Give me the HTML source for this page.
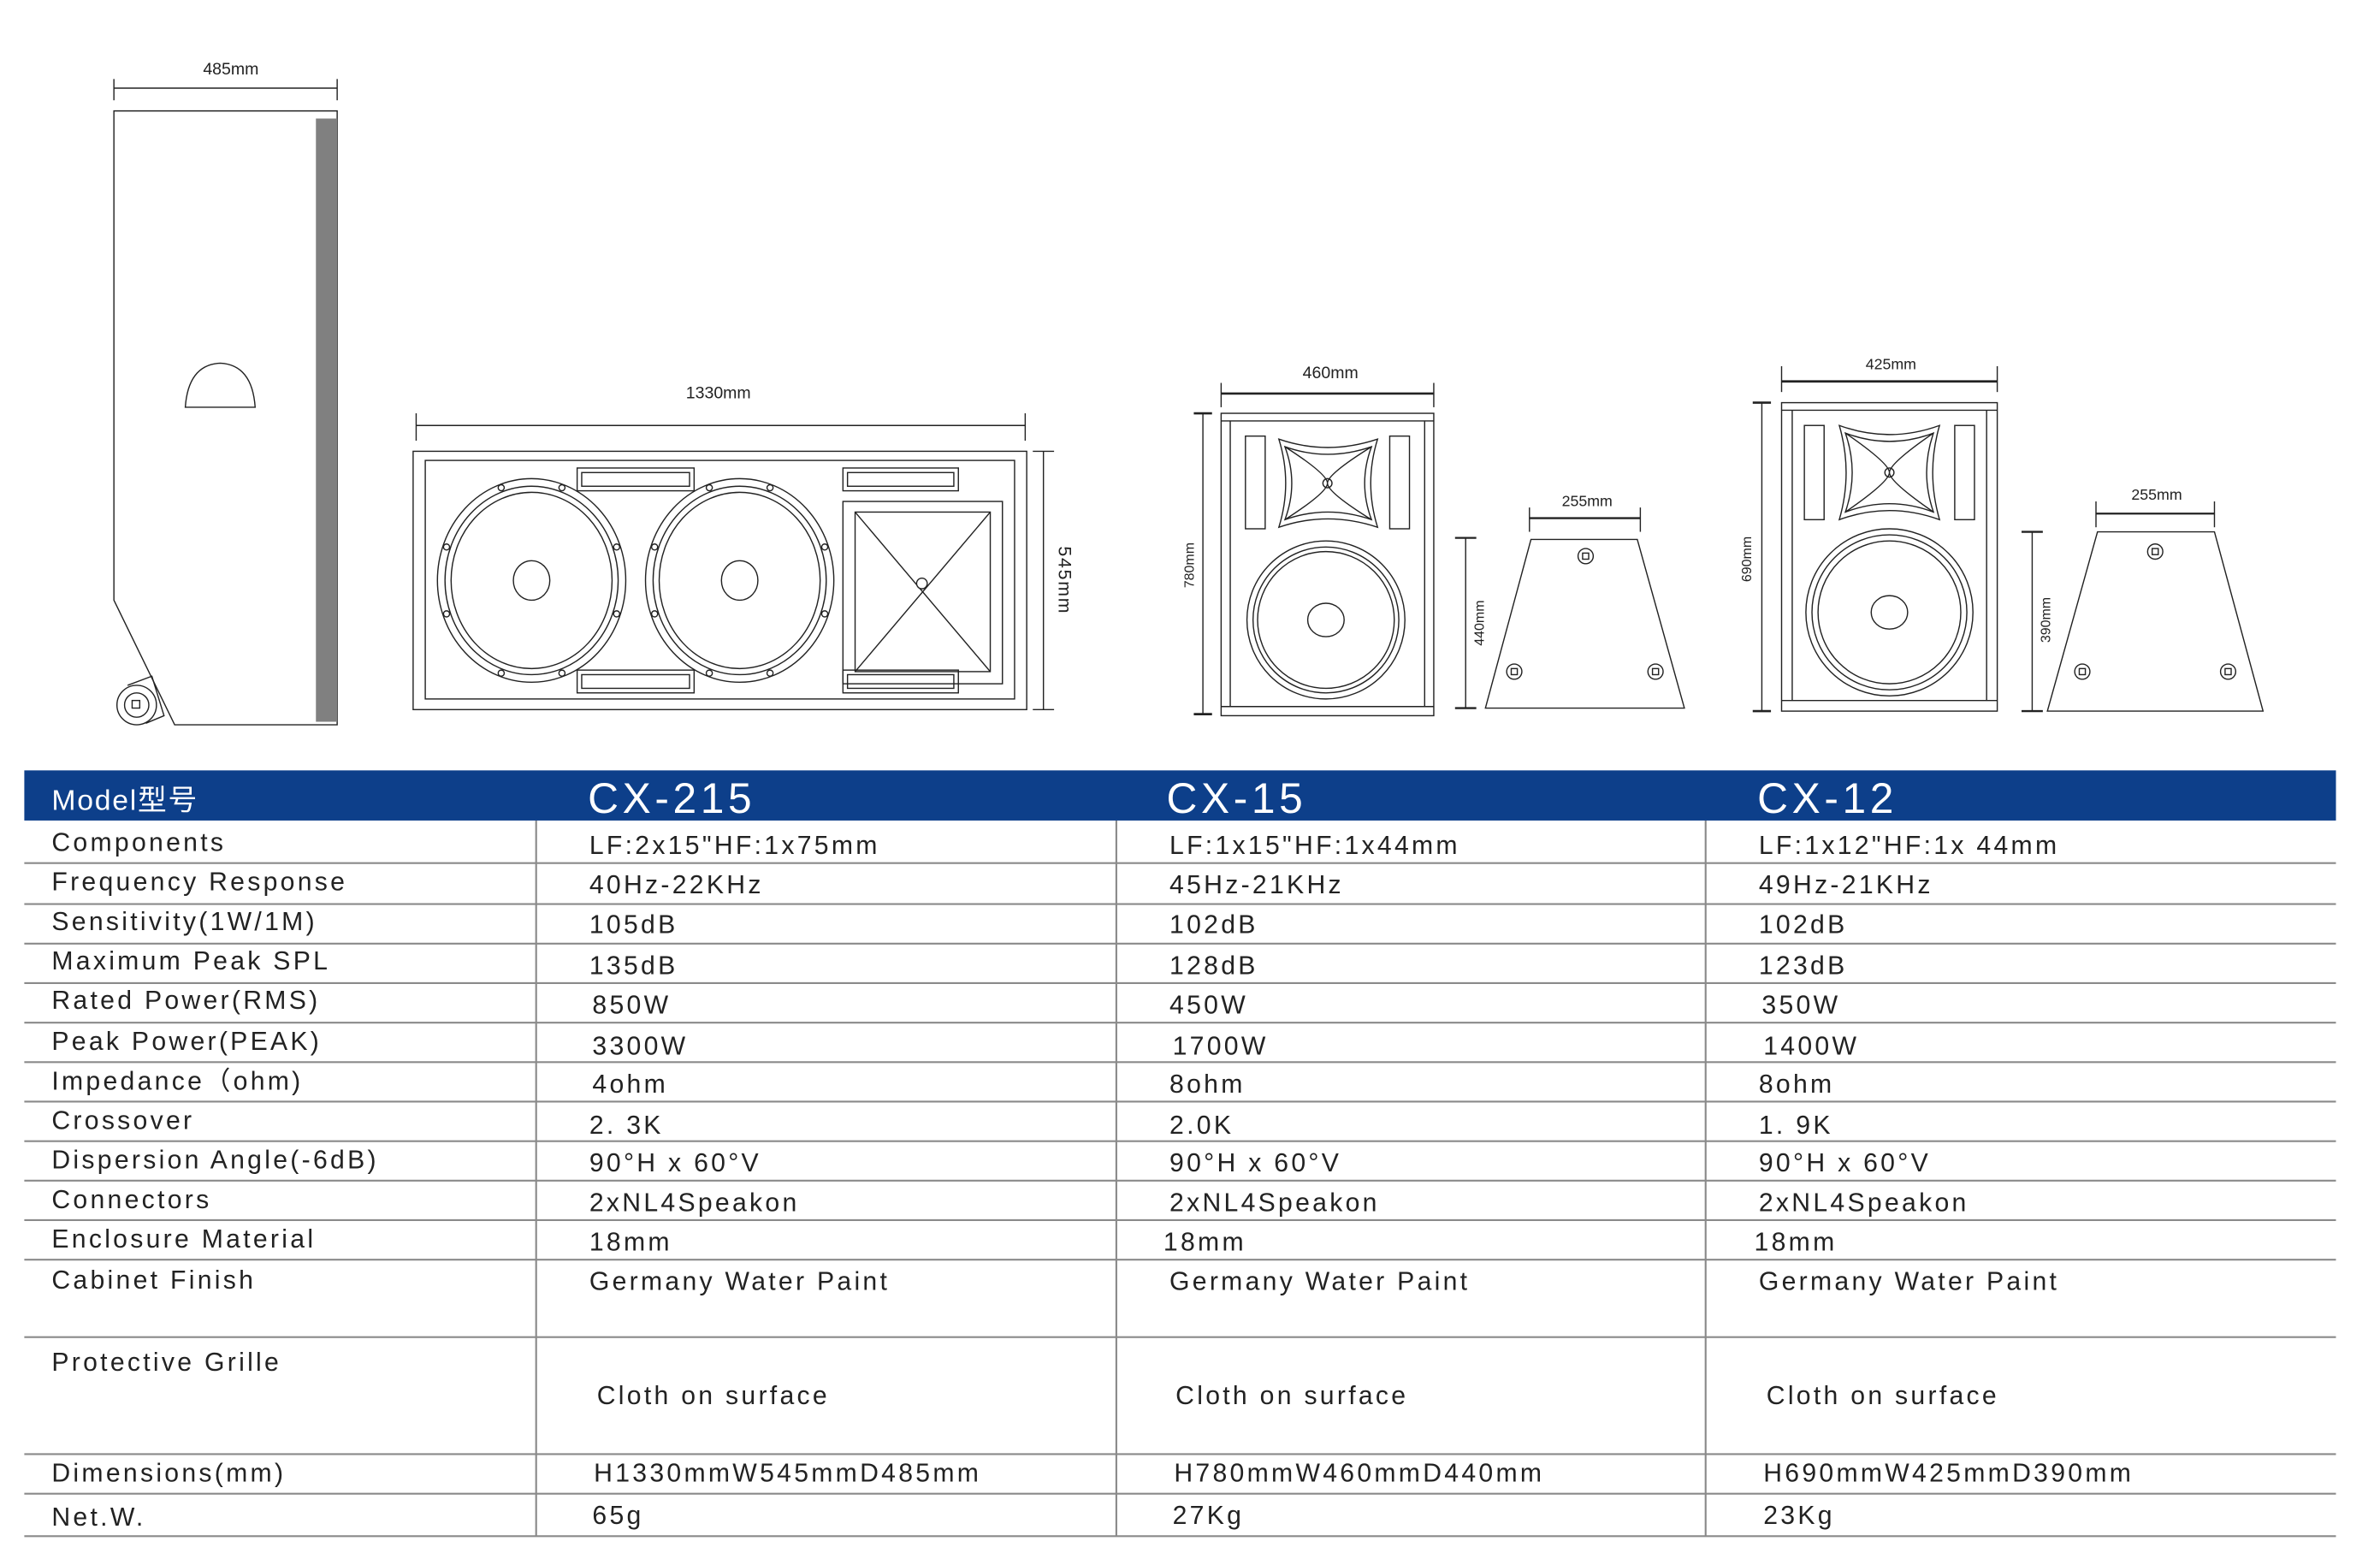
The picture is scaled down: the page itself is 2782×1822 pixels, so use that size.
<!DOCTYPE html>
<html><head><meta charset="utf-8"><style>
html,body{margin:0;padding:0;background:#fff;}
svg{display:block;}
text{font-family:"Liberation Sans","Noto Sans CJK SC",sans-serif;}
.d{font-size:11px;fill:#222;}
.t{font-size:17px;fill:#222;letter-spacing:1.85px;}
.h{fill:#fff;}
</style></head><body>
<svg width="2782" height="1822" viewBox="0 0 1567 1026" preserveAspectRatio="none" xmlns="http://www.w3.org/2000/svg">
<g fill="none" stroke="#222" stroke-width="0.8">
<line x1="75" y1="58" x2="222" y2="58"/><line x1="75" y1="52" x2="75" y2="66"/><line x1="222" y1="52" x2="222" y2="66"/>
<path d="M75 73 L222 73 L222 477 L115 477 L75 395 Z"/>
<rect x="208" y="78" width="14" height="397" fill="#808080" stroke="none"/>
<path d="M122 268 Q124 240 145 239 Q166 240 168 268 Z"/>
<circle cx="90" cy="464" r="13"/><circle cx="90" cy="464" r="8"/><rect x="87" y="461" width="5" height="5"/>
<path d="M84 451 L100 445 L108 471 L96 476"/>
<line x1="274" y1="280" x2="675" y2="280"/><line x1="274" y1="272" x2="274" y2="290"/><line x1="675" y1="272" x2="675" y2="290"/>
<rect x="272" y="297" width="404" height="170"/>
<rect x="280" y="303" width="388" height="157"/>
<line x1="687" y1="297" x2="687" y2="467"/><line x1="680" y1="297" x2="694" y2="297"/><line x1="680" y1="467" x2="694" y2="467"/>
<g id="w1">
<ellipse cx="350" cy="382" rx="62" ry="67"/><ellipse cx="350" cy="382" rx="57" ry="62"/><ellipse cx="350" cy="382" rx="53" ry="58"/>
<ellipse cx="350" cy="382" rx="12" ry="13"/>
<circle cx="330" cy="321" r="2"/><circle cx="370" cy="321" r="2"/><circle cx="294" cy="360" r="2"/><circle cx="406" cy="360" r="2"/><circle cx="294" cy="404" r="2"/><circle cx="406" cy="404" r="2"/><circle cx="330" cy="443" r="2"/><circle cx="370" cy="443" r="2"/>
</g>
<use href="#w1" x="137"/>
<rect x="555" y="330" width="105" height="120"/><rect x="563" y="337" width="89" height="105"/>
<line x1="563" y1="337" x2="652" y2="442"/><line x1="652" y1="337" x2="563" y2="442"/><circle cx="607" cy="384" r="3.5" fill="#fff"/>
<rect x="380" y="308" width="77" height="15"/><rect x="383" y="311" width="71" height="9"/>
<rect x="555" y="308" width="76" height="15"/><rect x="558" y="311" width="70" height="9"/>
<rect x="380" y="441" width="77" height="15"/><rect x="383" y="444" width="71" height="9"/>
<rect x="555" y="441" width="76" height="15"/><rect x="558" y="444" width="70" height="9"/>
<line x1="804" y1="259" x2="944" y2="259" stroke-width="1.5"/><line x1="804" y1="252" x2="804" y2="268"/><line x1="944" y1="252" x2="944" y2="268"/>
<rect x="804" y="272" width="140" height="199"/><line x1="804" y1="277" x2="944" y2="277"/><line x1="804" y1="465" x2="944" y2="465"/>
<line x1="810" y1="277" x2="810" y2="465"/><line x1="938" y1="277" x2="938" y2="465"/>
<line x1="792" y1="272" x2="792" y2="470"/><line x1="786" y1="272" x2="798" y2="272" stroke-width="1.5"/><line x1="786" y1="470" x2="798" y2="470" stroke-width="1.5"/>
<rect x="820" y="287" width="13" height="61"/><rect x="915" y="287" width="13" height="61"/>
<path d="M842 289 Q874 300 907 289 Q898 318 907 347 Q874 336 842 347 Q851 318 842 289 Z"/>
<path d="M846 294 Q874 304 903 294 Q894 318 903 342 Q874 332 846 342 Q855 318 846 294 Z"/>
<path d="M846 294 Q874 312 874 318 Q874 324 846 342 M903 294 Q874 312 874 318 Q874 324 903 342"/>
<circle cx="874" cy="318" r="3"/>
<circle cx="873" cy="408" r="52"/><circle cx="873" cy="408" r="48"/><circle cx="873" cy="408" r="45"/><ellipse cx="873" cy="408" rx="12" ry="11"/>
<path d="M1008 355 L1078 355 L1109 466 L978 466 Z"/>
<circle cx="1044" cy="366" r="5"/><circle cx="997" cy="442" r="5"/><circle cx="1090" cy="442" r="5"/>
<rect x="1042" y="364" width="4" height="4"/><rect x="995" y="440" width="4" height="4"/><rect x="1088" y="440" width="4" height="4"/>
<line x1="1007" y1="341" x2="1080" y2="341" stroke-width="1.3"/><line x1="1007" y1="334" x2="1007" y2="350"/><line x1="1080" y1="334" x2="1080" y2="350"/>
<line x1="965" y1="354" x2="965" y2="466"/><line x1="958" y1="354" x2="972" y2="354" stroke-width="1.3"/><line x1="958" y1="466" x2="972" y2="466" stroke-width="1.3"/>
<line x1="1173" y1="251" x2="1315" y2="251" stroke-width="1.5"/><line x1="1173" y1="241" x2="1173" y2="258"/><line x1="1315" y1="241" x2="1315" y2="258"/>
<rect x="1173" y="265" width="142" height="203"/><line x1="1173" y1="270" x2="1315" y2="270"/><line x1="1173" y1="461" x2="1315" y2="461"/>
<line x1="1180" y1="270" x2="1180" y2="461"/><line x1="1308" y1="270" x2="1308" y2="461"/>
<line x1="1160" y1="265" x2="1160" y2="468"/><line x1="1154" y1="265" x2="1166" y2="265" stroke-width="1.5"/><line x1="1154" y1="468" x2="1166" y2="468" stroke-width="1.5"/>
<rect x="1188" y="280" width="13" height="62"/><rect x="1287" y="280" width="13" height="62"/>
<path d="M1211 280 Q1244 292 1277 280 Q1268 311 1277 342 Q1244 330 1211 342 Q1220 311 1211 280 Z"/>
<path d="M1215 285 Q1244 296 1273 285 Q1264 311 1273 337 Q1244 326 1215 337 Q1224 311 1215 285 Z"/>
<path d="M1215 285 Q1244 305 1244 311 Q1244 317 1215 337 M1273 285 Q1244 305 1244 311 Q1244 317 1273 337"/>
<circle cx="1244" cy="311" r="3"/>
<circle cx="1244" cy="403" r="55"/><circle cx="1244" cy="403" r="51"/><circle cx="1244" cy="403" r="47"/><ellipse cx="1244" cy="403" rx="12" ry="11"/>
<path d="M1381 350 L1458 350 L1490 468 L1348 468 Z"/>
<circle cx="1419" cy="363" r="5"/><circle cx="1371" cy="442" r="5"/><circle cx="1467" cy="442" r="5"/>
<rect x="1417" y="361" width="4" height="4"/><rect x="1369" y="440" width="4" height="4"/><rect x="1465" y="440" width="4" height="4"/>
<line x1="1380" y1="338" x2="1458" y2="338" stroke-width="1.3"/><line x1="1380" y1="330" x2="1380" y2="347"/><line x1="1458" y1="330" x2="1458" y2="347"/>
<line x1="1338" y1="350" x2="1338" y2="468"/><line x1="1331" y1="350" x2="1345" y2="350" stroke-width="1.3"/><line x1="1331" y1="468" x2="1345" y2="468" stroke-width="1.3"/>
</g>
<text class="d" x="152" y="49" text-anchor="middle">485mm</text>
<text class="d" x="473" y="262" text-anchor="middle">1330mm</text>
<text class="d" transform="translate(697,382) rotate(90)" text-anchor="middle" style="font-size:12px;letter-spacing:1px">545mm</text>
<text class="d" x="876" y="249" text-anchor="middle">460mm</text>
<text class="d" transform="translate(786,372) rotate(-90)" text-anchor="middle" style="font-size:9px">780mm</text>
<text class="d" x="1045" y="333" text-anchor="middle" style="font-size:10px">255mm</text>
<text class="d" transform="translate(977,410) rotate(-90)" text-anchor="middle" style="font-size:9px">440mm</text>
<text class="d" x="1245" y="243" text-anchor="middle" style="font-size:10px">425mm</text>
<text class="d" transform="translate(1153,368) rotate(-90)" text-anchor="middle" style="font-size:9px">690mm</text>
<text class="d" x="1420" y="329" text-anchor="middle" style="font-size:10px">255mm</text>
<text class="d" transform="translate(1350,408) rotate(-90)" text-anchor="middle" style="font-size:9px">390mm</text>

<rect x="16" y="507" width="1522" height="33" fill="#0d3f8a"/>
<text class="h" x="34" y="533" style="font-size:19px;letter-spacing:1px">Model型号</text>
<text class="h" x="387" y="535" style="font-size:28px;letter-spacing:2.6px">CX-215</text>
<text class="h" x="768" y="535" style="font-size:28px;letter-spacing:2.6px">CX-15</text>
<text class="h" x="1157" y="535" style="font-size:28px;letter-spacing:2.6px">CX-12</text>
<g stroke="#8a8a8a" stroke-width="1.2">
<line x1="16" y1="568" x2="1538" y2="568"/><line x1="16" y1="595" x2="1538" y2="595"/><line x1="16" y1="621" x2="1538" y2="621"/>
<line x1="16" y1="647" x2="1538" y2="647"/><line x1="16" y1="673" x2="1538" y2="673"/><line x1="16" y1="699" x2="1538" y2="699"/>
<line x1="16" y1="725" x2="1538" y2="725"/><line x1="16" y1="751" x2="1538" y2="751"/><line x1="16" y1="777" x2="1538" y2="777"/>
<line x1="16" y1="803" x2="1538" y2="803"/><line x1="16" y1="829" x2="1538" y2="829"/><line x1="16" y1="880" x2="1538" y2="880"/>
<line x1="16" y1="957" x2="1538" y2="957"/><line x1="16" y1="983" x2="1538" y2="983"/><line x1="16" y1="1011" x2="1538" y2="1011"/>
<line x1="353" y1="540" x2="353" y2="1011"/><line x1="735" y1="540" x2="735" y2="1011"/><line x1="1123" y1="540" x2="1123" y2="1011"/>
</g>
<g class="t">
<text class="t" x="34" y="560">Components</text><text class="t" x="388" y="562">LF:2x15"HF:1x75mm</text><text class="t" x="770" y="562">LF:1x15"HF:1x44mm</text><text class="t" x="1158" y="562">LF:1x12"HF:1x 44mm</text>
<text class="t" x="34" y="586">Frequency Response</text><text class="t" x="388" y="588">40Hz-22KHz</text><text class="t" x="770" y="588">45Hz-21KHz</text><text class="t" x="1158" y="588">49Hz-21KHz</text>
<text class="t" x="34" y="612">Sensitivity(1W/1M)</text><text class="t" x="388" y="614">105dB</text><text class="t" x="770" y="614">102dB</text><text class="t" x="1158" y="614">102dB</text>
<text class="t" x="34" y="638">Maximum Peak SPL</text><text class="t" x="388" y="641">135dB</text><text class="t" x="770" y="641">128dB</text><text class="t" x="1158" y="641">123dB</text>
<text class="t" x="34" y="664">Rated Power(RMS)</text><text class="t" x="390" y="667">850W</text><text class="t" x="770" y="667">450W</text><text class="t" x="1160" y="667">350W</text>
<text class="t" x="34" y="691">Peak Power(PEAK)</text><text class="t" x="390" y="694">3300W</text><text class="t" x="772" y="694">1700W</text><text class="t" x="1161" y="694">1400W</text>
<text class="t" x="34" y="717">Impedance（ohm)</text><text class="t" x="390" y="719">4ohm</text><text class="t" x="770" y="719">8ohm</text><text class="t" x="1158" y="719">8ohm</text>
<text class="t" x="34" y="743">Crossover</text><text class="t" x="388" y="746">2. 3K</text><text class="t" x="770" y="746">2.0K</text><text class="t" x="1158" y="746">1. 9K</text>
<text class="t" x="34" y="769">Dispersion Angle(-6dB)</text><text class="t" x="388" y="771">90°H x 60°V</text><text class="t" x="770" y="771">90°H x 60°V</text><text class="t" x="1158" y="771">90°H x 60°V</text>
<text class="t" x="34" y="795">Connectors</text><text class="t" x="388" y="797">2xNL4Speakon</text><text class="t" x="770" y="797">2xNL4Speakon</text><text class="t" x="1158" y="797">2xNL4Speakon</text>
<text class="t" x="34" y="821">Enclosure Material</text><text class="t" x="388" y="823">18mm</text><text class="t" x="766" y="823">18mm</text><text class="t" x="1155" y="823">18mm</text>
<text class="t" x="34" y="848">Cabinet Finish</text><text class="t" x="388" y="849">Germany Water Paint</text><text class="t" x="770" y="849">Germany Water Paint</text><text class="t" x="1158" y="849">Germany Water Paint</text>
<text class="t" x="34" y="902">Protective Grille</text><text class="t" x="393" y="924">Cloth on surface</text><text class="t" x="774" y="924">Cloth on surface</text><text class="t" x="1163" y="924">Cloth on surface</text>
<text class="t" x="34" y="975">Dimensions(mm)</text><text class="t" x="391" y="975">H1330mmW545mmD485mm</text><text class="t" x="773" y="975">H780mmW460mmD440mm</text><text class="t" x="1161" y="975">H690mmW425mmD390mm</text>
<text class="t" x="34" y="1004">Net.W.</text><text class="t" x="390" y="1003">65g</text><text class="t" x="772" y="1003">27Kg</text><text class="t" x="1161" y="1003">23Kg</text>
</g>
</svg>
</body></html>
